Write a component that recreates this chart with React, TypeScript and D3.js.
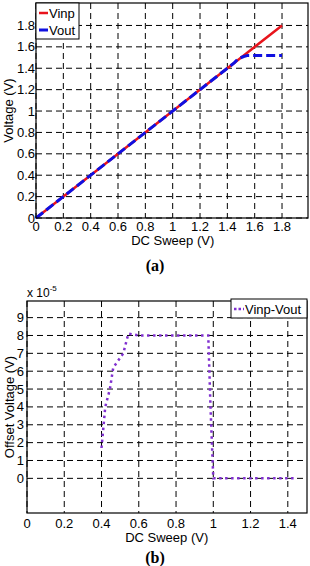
import React from "react";
import * as d3 from "d3";

const sweepA = [0, 1.4, 1.45, 1.48, 1.52, 1.55, 1.8];
const vinp = [0, 1.4, 1.45, 1.48, 1.52, 1.55, 1.8];
const vout = [0, 1.4, 1.45, 1.49, 1.51, 1.52, 1.52];
const xTicksA = [0, 0.2, 0.4, 0.6, 0.8, 1, 1.2, 1.4, 1.6, 1.8];
const yTicksA = [0, 0.2, 0.4, 0.6, 0.8, 1, 1.2, 1.4, 1.6, 1.8];

const sweepB = [0.4, 0.42, 0.445, 0.463, 0.517, 0.544, 0.6, 0.8, 0.973, 0.985, 1.0, 1.05, 1.2, 1.44];
const offset = [1.7, 4.0, 5.0, 6.2, 7.0, 8.1, 8.0, 8.0, 8.0, 4.0, 0, 0, 0, 0];
const xTicksB = [0, 0.2, 0.4, 0.6, 0.8, 1, 1.2, 1.4];
const yTicksB = [0, 1, 2, 3, 4, 5, 6, 7, 8, 9];

const FONT = "Liberation Sans, Arial, sans-serif";
const fmt = (v: number) => String(v);

function Grid({ x, y, xt, yt, l, r, t, b }: any) {
  return (
    <g>
      {xt.map((v: number) => (
        <line key={"gx" + v} x1={x(v)} x2={x(v)} y1={t} y2={b} stroke="#000" strokeWidth={1} strokeDasharray="6,4" />
      ))}
      {yt.map((v: number) => (
        <line key={"gy" + v} x1={l} x2={r} y1={y(v)} y2={y(v)} stroke="#000" strokeWidth={1} strokeDasharray="6,4" />
      ))}
    </g>
  );
}

export default function App() {
  // Chart A
  const aL = 36, aR = 308, aT = 3, aB = 218;
  const xA = d3.scaleLinear().domain([0, 1.99]).range([aL, aR]);
  const yA = d3.scaleLinear().domain([0, 2.01]).range([aB, aT]);
  const lineA = d3.line<number>().x((_, i) => xA(sweepA[i])).y((d) => yA(d));

  // Chart B
  const bL = 27, bR = 307, bT = 301, bB = 513;
  const xB = d3.scaleLinear().domain([0, 1.503]).range([bL, bR]);
  const yB = d3.scaleLinear().domain([-1.94, 9.93]).range([bB, bT]);
  const lineB = d3.line<number>().x((_, i) => xB(sweepB[i])).y((d) => yB(d));

  return (
    <svg width={310} height={566} style={{ position: "absolute", left: 0, top: 0, background: "#fff" }} fontFamily={FONT}>
      <rect width={310} height={566} fill="#fff" />
      {/* Chart A */}
      <Grid x={xA} y={yA} xt={xTicksA} yt={yTicksA} l={aL} r={aR} t={aT} b={aB} />
      <path d={lineA(vinp) || ""} fill="none" stroke="#e8141c" strokeWidth={2.5} />
      <path d={lineA(vout) || ""} fill="none" stroke="#1010e0" strokeWidth={3} strokeDasharray="9,4" />
      <rect x={aL} y={aT} width={aR - aL} height={aB - aT} fill="none" stroke="#000" strokeWidth={1.2} />
      {xTicksA.map((v) => (
        <text key={"xa" + v} x={xA(v)} y={231} fontSize={13} textAnchor="middle">{fmt(v)}</text>
      ))}
      {yTicksA.map((v) => (
        <text key={"ya" + v} x={aL - 1} y={yA(v) + 4.5} fontSize={13} textAnchor="end">{fmt(v)}</text>
      ))}
      <text x={xA(1)} y={245} fontSize={13} textAnchor="middle">DC Sweep (V)</text>
      <text transform={`translate(13,${(aT + aB) / 2}) rotate(-90)`} fontSize={13} textAnchor="middle">Voltage (V)</text>
      {/* legend A */}
      <rect x={aL} y={aT} width={43} height={36} fill="#fff" stroke="#000" strokeWidth={1} />
      <line x1={aL + 3} x2={aL + 12} y1={13} y2={13} stroke="#e8141c" strokeWidth={2.5} />
      <text x={aL + 13} y={17.5} fontSize={13}>Vinp</text>
      <line x1={aL + 3} x2={aL + 12} y1={30} y2={30} stroke="#1010e0" strokeWidth={3} />
      <text x={aL + 13} y={34.5} fontSize={13}>Vout</text>
      <text x={155} y={271} fontSize={16} fontWeight="bold" textAnchor="middle" fontFamily="Liberation Serif, Times New Roman, serif">(a)</text>

      {/* Chart B */}
      <Grid x={xB} y={yB} xt={xTicksB} yt={yTicksB} l={bL} r={bR} t={bT} b={bB} />
      <path d={lineB(offset) || ""} fill="none" stroke="#8030d0" strokeWidth={2.5} strokeDasharray="2.5,3.5" />
      <rect x={bL} y={bT} width={bR - bL} height={bB - bT} fill="none" stroke="#000" strokeWidth={1.2} />
      {xTicksB.map((v) => (
        <text key={"xb" + v} x={xB(v)} y={528} fontSize={13} textAnchor="middle">{fmt(v)}</text>
      ))}
      {yTicksB.map((v) => (
        <text key={"yb" + v} x={bL - 3} y={yB(v) + 4.5} fontSize={13} textAnchor="end">{fmt(v)}</text>
      ))}
      <text x={bL} y={297} fontSize={12}>x 10<tspan dy={-6} fontSize={8}>-5</tspan></text>
      <text x={xB(0.75)} y={542} fontSize={13} textAnchor="middle">DC Sweep (V)</text>
      <text transform={`translate(14,${(bT + bB) / 2}) rotate(-90)`} fontSize={13} textAnchor="middle">Offset Voltage (V)</text>
      {/* legend B */}
      <rect x={231} y={bT - 2} width={bR - 231} height={19} fill="#fff" stroke="#000" strokeWidth={1} />
      <line x1={234} x2={244} y1={bT + 8} y2={bT + 8} stroke="#8030d0" strokeWidth={2.5} strokeDasharray="2.5,2" />
      <text x={245} y={bT + 12.5} fontSize={13}>Vinp-Vout</text>
      <text x={155} y={563} fontSize={16} fontWeight="bold" textAnchor="middle" fontFamily="Liberation Serif, Times New Roman, serif">(b)</text>
    </svg>
  );
}
